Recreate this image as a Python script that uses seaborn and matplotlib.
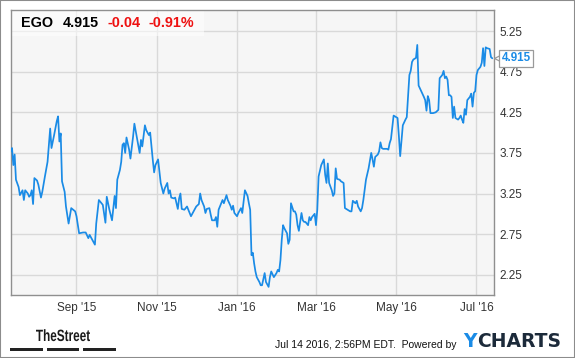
import pandas as pd
import numpy as np
import matplotlib
matplotlib.use("Agg")
import matplotlib.pyplot as plt
import matplotlib.transforms as mtransforms
from matplotlib.patches import Rectangle, PathPatch
from matplotlib.textpath import TextPath
from matplotlib.font_manager import FontProperties
import seaborn as sns

# EGO daily close (days counted from 2015-07-13)
start_date = "2015-07-13"
day = [0, 1, 2, 3, 4, 6, 7, 9, 10, 11, 13, 14, 15, 16, 17, 18, 20, 21, 23, 24,
       26, 28, 30, 31, 33, 35, 36, 37, 38, 39, 41, 42, 44, 46, 49, 50, 52, 55, 57, 59,
       60, 62, 64, 65, 67, 70, 72, 73, 75, 77, 79, 80, 81, 83, 84, 85, 86, 87, 88, 90,
       91, 93, 94, 96, 97, 98, 99, 100, 102, 103, 105, 106, 107, 108, 109, 110, 112, 113, 114, 116,
       117, 119, 120, 121, 122, 124, 125, 127, 128, 129, 130, 132, 134, 135, 137, 139, 141, 143, 144, 145,
       147, 148, 149, 151, 152, 153, 155, 156, 157, 158, 160, 161, 162, 164, 165, 167, 168, 169, 170, 172,
       173, 175, 176, 177, 178, 180, 181, 182, 183, 184, 185, 186, 187, 189, 190, 191, 193, 194, 196, 197,
       198, 200, 202, 203, 204, 205, 206, 207, 208, 210, 211, 212, 213, 215, 216, 217, 218, 219, 221, 222,
       223, 224, 226, 227, 228, 229, 231, 232, 233, 234, 236, 238, 239, 240, 241, 242, 244, 245, 246, 247,
       248, 250, 251, 253, 254, 256, 258, 259, 260, 262, 263, 264, 266, 267, 268, 270, 272, 274, 275, 276,
       277, 279, 280, 281, 282, 283, 286, 287, 288, 289, 290, 291, 292, 294, 295, 296, 298, 300, 301, 302,
       303, 304, 305, 306, 308, 309, 310, 312, 314, 315, 316, 317, 318, 319, 321, 323, 325, 326, 328, 329,
       330, 331, 332, 333, 334, 335, 336, 337, 338, 340, 341, 342, 343, 344, 345, 346, 347, 349, 350, 351,
       352, 353, 354, 355, 357, 358, 359, 360, 361, 362, 364, 365, 366]
price = [3.77, 3.81, 3.60, 3.73, 3.42, 3.33, 3.23, 3.29, 3.17, 3.29, 3.25, 3.21, 3.23, 3.29, 3.12, 3.44, 3.41, 3.36, 3.20, 3.27,
         3.46, 3.64, 4.05, 3.81, 3.97, 4.14, 4.20, 3.89, 3.99, 3.40, 3.27, 3.09, 2.88, 3.07, 3.03, 2.97, 2.76, 2.77, 2.77, 2.70,
         2.74, 2.68, 2.62, 2.88, 3.17, 3.11, 2.89, 3.21, 3.05, 2.92, 3.22, 3.07, 3.42, 3.54, 3.64, 3.85, 3.87, 3.75, 3.94, 3.79,
         3.68, 3.95, 4.11, 3.93, 3.84, 3.75, 3.91, 3.83, 4.09, 4.03, 3.97, 4.00, 3.83, 3.66, 3.51, 3.60, 3.67, 3.52, 3.38, 3.25,
         3.31, 3.38, 3.25, 3.29, 3.20, 3.19, 3.20, 3.06, 3.19, 3.25, 3.06, 3.05, 3.09, 3.05, 2.97, 3.03, 3.09, 3.12, 3.25, 3.17,
         3.09, 3.01, 3.06, 3.07, 2.99, 2.92, 2.92, 2.96, 2.84, 3.05, 3.13, 3.17, 3.13, 3.23, 3.17, 3.10, 3.05, 3.10, 3.01, 2.97,
         3.01, 3.07, 3.01, 3.15, 3.29, 3.22, 3.13, 3.05, 2.49, 2.52, 2.39, 2.29, 2.22, 2.16, 2.12, 2.12, 2.27, 2.16, 2.10, 2.22,
         2.29, 2.22, 2.27, 2.31, 2.29, 2.43, 2.68, 2.86, 2.82, 2.76, 2.63, 2.68, 3.13, 3.03, 3.03, 2.99, 2.86, 2.79, 3.01, 2.92,
         2.90, 2.90, 2.86, 2.96, 2.92, 2.96, 3.00, 2.86, 3.05, 3.46, 3.60, 3.67, 3.48, 3.38, 3.62, 3.38, 3.29, 3.22, 3.25, 3.56,
         3.43, 3.42, 3.40, 3.38, 3.07, 3.05, 3.03, 3.03, 3.16, 3.13, 3.16, 3.09, 3.03, 3.07, 3.17, 3.42, 3.56, 3.75, 3.67, 3.58,
         3.70, 3.73, 3.77, 3.88, 3.81, 3.80, 3.80, 3.79, 3.87, 3.92, 4.07, 4.21, 4.20, 4.18, 3.96, 3.71, 4.09, 4.16, 4.19, 4.44,
         4.71, 4.76, 4.87, 4.90, 4.92, 5.08, 4.58, 4.51, 4.44, 4.40, 4.27, 4.45, 4.40, 4.24, 4.24, 4.25, 4.28, 4.67, 4.71, 4.76,
         4.67, 4.69, 4.65, 4.46, 4.46, 4.44, 4.18, 4.32, 4.18, 4.16, 4.18, 4.21, 4.16, 4.12, 4.29, 4.22, 4.40, 4.44, 4.48, 4.32,
         4.49, 4.51, 4.71, 4.77, 4.81, 4.86, 5.04, 4.82, 5.05, 5.04, 5.03, 4.93, 4.915]

ticker = "EGO"
last_price = "4.915"
change = "-0.04"
change_pct = "-0.91%"

xtick_dates = ["2015-09-01", "2015-11-01", "2016-01-01", "2016-03-01", "2016-05-01", "2016-07-01"]
xtick_labels = ["Sep '15", "Nov '15", "Jan '16", "Mar '16", "May '16", "Jul '16"]
ytick_values = [2.25, 2.75, 3.25, 3.75, 4.25, 4.75, 5.25]

line_blue = "#1a8be6"
grid_col = "#d9d9d9"
frame_col = "#8f8f8f"

sns.set_style("whitegrid", {"axes.facecolor": "#f6f6f6", "grid.color": grid_col,
                            "axes.edgecolor": frame_col})
plt.rcParams["font.family"] = ["Liberation Sans", "DejaVu Sans"]

df = pd.DataFrame({
    "date": pd.Timestamp(start_date) + pd.to_timedelta(day, unit="D"),
    "price": price,
})

fig = plt.figure(figsize=(5.75, 3.58), dpi=100)
ax = fig.add_axes([10.7 / 575, 1 - 295 / 358, (494 - 10.7) / 575, (295 - 10) / 358])

sns.lineplot(data=df, x="date", y="price", ax=ax, color=line_blue, linewidth=1.25, zorder=3)

ax.set_xlim(pd.Timestamp(start_date), pd.Timestamp(start_date) + pd.Timedelta(days=367.3))
ax.set_ylim(2.0, 5.51)
ax.set_xticks(pd.to_datetime(xtick_dates))
ax.set_xticklabels(xtick_labels)
ax.set_yticks(ytick_values)
ax.set_yticklabels([f"{v:.2f}" for v in ytick_values])
ax.yaxis.tick_right()
ax.tick_params(axis="both", length=0, labelsize=8.5, colors="#333333")
ax.tick_params(axis="y", pad=4)
ax.tick_params(axis="x", pad=5)
ax.set_xlabel("")
ax.set_ylabel("")
ax.grid(True, color=grid_col, linewidth=1)
for s in ax.spines.values():
    s.set_visible(True)
    s.set_color(frame_col)
    s.set_linewidth(1)

# header box with quote
ax.add_patch(Rectangle((0, 1 - 26 / 285), 193 / 483.3, 26 / 285, transform=ax.transAxes,
                       facecolor="white", alpha=0.55, edgecolor="none", zorder=2))
hy = 1 - 13 / 285
ax.text(10.6 / 483.3, hy, ticker, transform=ax.transAxes, fontsize=10.4, fontweight="bold",
        color="black", va="center", zorder=4)
ax.text(52 / 483.3, hy, last_price, transform=ax.transAxes, fontsize=10.4, fontweight="bold",
        color="black", va="center", zorder=4)
ax.text(96.6 / 483.3, hy, change, transform=ax.transAxes, fontsize=10.4, fontweight="bold",
        color="#ee1111", va="center", zorder=4)
ax.text(137.6 / 483.3, hy, change_pct, transform=ax.transAxes, fontsize=10.4, fontweight="bold",
        color="#ee1111", va="center", zorder=4)

# last value callout on the right axis
trans = mtransforms.blended_transform_factory(ax.transAxes, ax.transData)
ax.plot([1.0075], [price[-1]], marker="<", markersize=6, markerfacecolor="white",
        markeredgecolor="#9a9a9a", markeredgewidth=0.9, transform=trans, clip_on=False, zorder=5)
ax.text(1.0155, price[-1], last_price, transform=trans, fontsize=8.4, fontweight="bold",
        color=line_blue, va="center", ha="left", zorder=6, clip_on=False,
        bbox=dict(boxstyle="square,pad=0.22", facecolor="white", edgecolor="#9a9a9a", linewidth=0.9))

# footer: TheStreet logo (condensed bold word squeezed into its box)
logo = TextPath((0, 0), "TheStreet", size=100, prop=FontProperties(family="Liberation Sans", weight="bold"))
bb = logo.get_extents()
sx = 54 / bb.width
sy = 11.7 / 71.6
logo_tf = mtransforms.Affine2D().translate(-bb.x0, 0).scale(sx, sy).translate(36, 358 - 341)
fig.patches.append(PathPatch(logo, transform=logo_tf, facecolor="#1a1a1a", edgecolor="none"))
for x0, x1 in [(10, 42.7), (46.7, 79), (83.3, 115.7)]:
    fig.patches.append(Rectangle((x0 / 575, 1 - 351 / 358), (x1 - x0) / 575, 3.5 / 358,
                                 transform=fig.transFigure, facecolor="#222222", edgecolor="none"))
fig.text(275.3 / 575, 1 - 345 / 358, "Jul 14 2016, 2:56PM EDT.  Powered by", fontsize=7.5,
         color="#111111", ha="left", va="center")
fig.text(463 / 575, 1 - 341.5 / 358, "Y", fontsize=13.5, fontweight="bold", color="#1a8be6",
         ha="left", va="center", family="DejaVu Sans")
fig.text(477 / 575, 1 - 341.5 / 358, "CHARTS", fontsize=13.5, fontweight="bold", color="#1c2a3a",
         ha="left", va="center", family="DejaVu Sans")

fig.patches.append(Rectangle((0, 0), 1, 1, transform=fig.transFigure, fill=False,
                             edgecolor="#8c8c8c", linewidth=1.5))

fig.savefig("out.png", dpi=100)
